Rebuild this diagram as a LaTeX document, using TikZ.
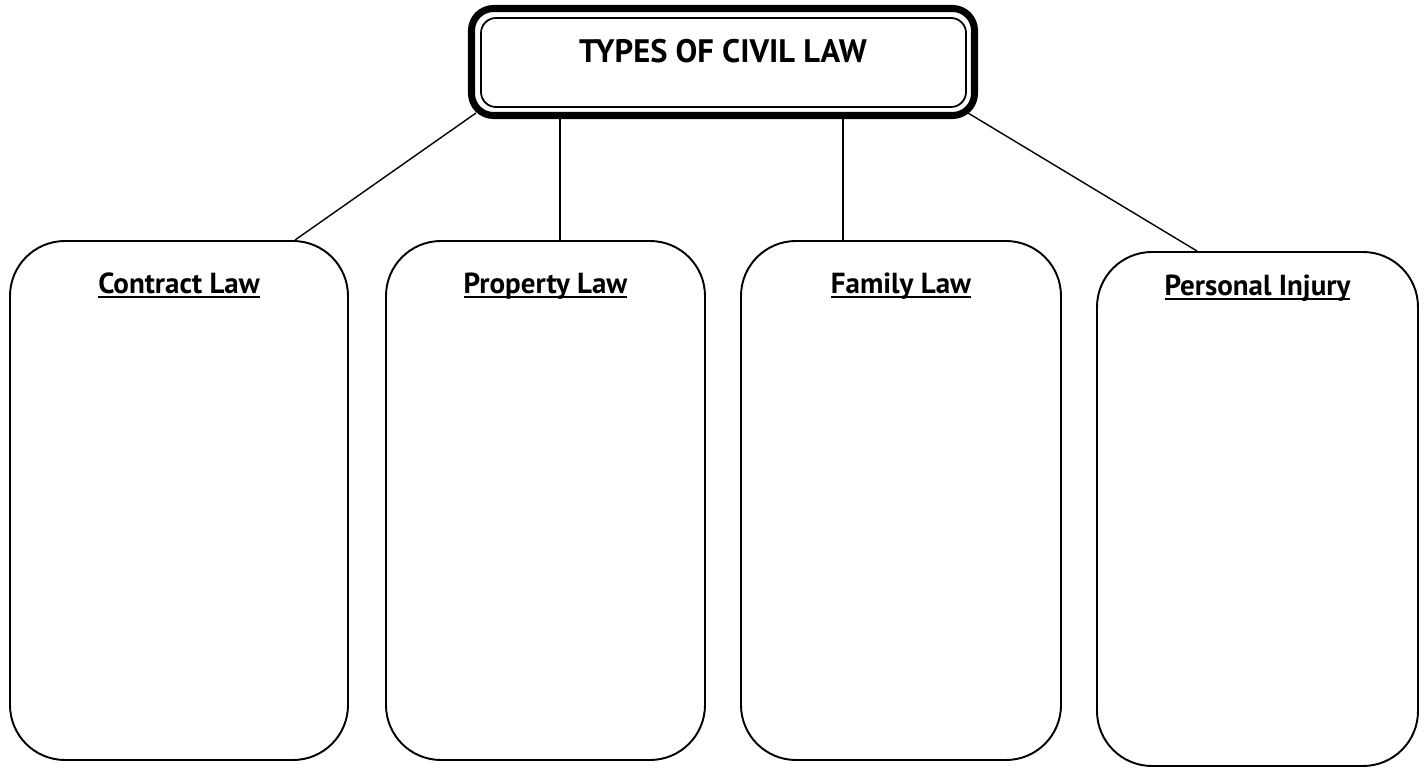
\documentclass[tikz,border=0pt]{standalone}
\usepackage{fontspec}
\setmainfont{PT Sans}
\usetikzlibrary{positioning}

\newsavebox{\ulbox}
\newcommand{\ulabel}[1]{\sbox{\ulbox}{#1}\rlap{\rule[-2.8pt]{\wd\ulbox}{1.1pt}}\usebox{\ulbox}}

\tikzset{
	lawbox/.style={draw, line width=1.1pt, rounded corners=1.1cm, minimum width=6.4cm, minimum height=10.38cm},
	heading/.style={anchor=base, font=\bfseries\fontsize{16.5}{18}\selectfont},
	branch/.style={line width=0.8pt}
}

\begin{document}
\begin{tikzpicture}
	\useasboundingbox (0,0) rectangle (28.48,-15.36);
	% the four kinds of law
	\node[lawbox, minimum width=6.76cm] (contract) at (3.58,-10.01) {};
	\node[lawbox, minimum width=6.38cm] (property) at (10.91,-10.01) {};
	\node[lawbox, minimum width=6.40cm] (family) at (18.02,-10.01) {};
	\node[lawbox, minimum width=6.42cm, minimum height=10.28cm] (injury) at (25.15,-10.18) {};
	\node[heading] (contractlbl) at ([yshift=-1.06cm]contract.north) {\ulabel{Contract Law}};
	\node[heading] (propertylbl) at ([yshift=-1.06cm]property.north) {\ulabel{Property Law}};
	\node[heading] (familylbl) at ([yshift=-1.06cm]family.north) {\ulabel{Family Law}};
	\node[heading] (injurylbl) at ([yshift=-0.88cm]injury.north) {\ulabel{Personal Injury}};
	% title with its double frame
	\node[draw, line width=4pt, rounded corners=0.44cm, minimum width=10.06cm, minimum height=2.14cm, fill=white] (title) at (14.46,-1.24) {};
	\draw[line width=1pt, rounded corners=0.3cm] ([shift={(0.26,0.24)}]title.south west) rectangle ([shift={(-0.24,-0.26)}]title.north east);
	\node[heading, font=\bfseries\fontsize{18.5}{20}\selectfont] (titlelbl) at ([yshift=-1.16cm]title.north) {TYPES OF CIVIL LAW};
	% branches
	\draw[branch] ([shift={(0.16,0.12)}]title.south west) -- ([xshift=2.32cm]contract.north);
	\draw[branch] ([xshift=-3.26cm]title.south) -- ([xshift=-3.26cm]title.south |- property.north);
	\draw[branch] ([xshift=2.4cm]title.south) -- ([xshift=2.4cm]title.south |- family.north);
	\draw[branch] ([shift={(-0.2,0.12)}]title.south east) -- ([xshift=-1.21cm]injury.north);
\end{tikzpicture}
\end{document}
